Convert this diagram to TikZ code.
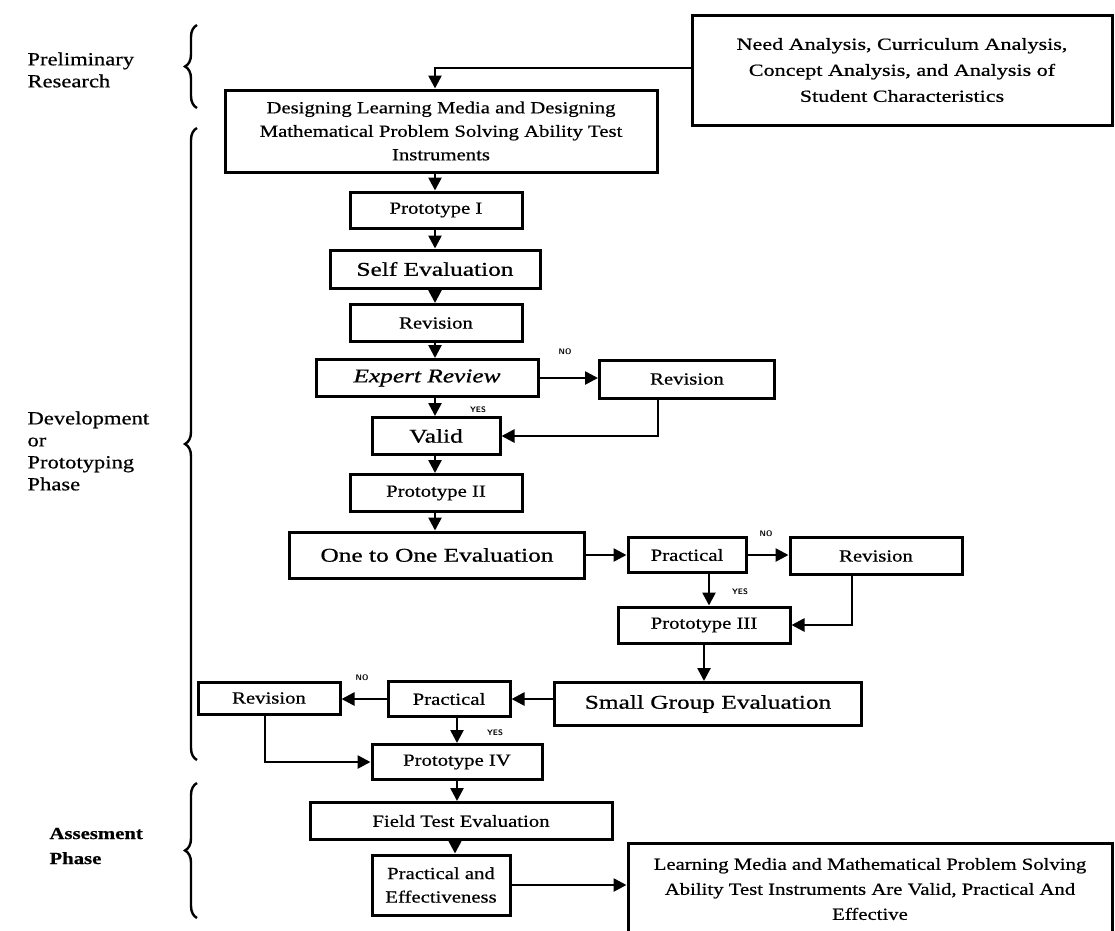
\documentclass[tikz,border=0pt]{standalone}
\usepackage{fontspec}
\setmainfont{Liberation Serif}
\newfontfamily\wide[FakeStretch=1.22,FakeBold=0.6]{Liberation Serif}
\newfontfamily\wider[FakeStretch=1.3,FakeBold=0.8]{Liberation Serif}
\usetikzlibrary{arrows.meta,decorations.pathreplacing}
\begin{document}
\begin{tikzpicture}[x=1pt,y=-1pt,
 box/.style={draw,line width=3pt,align=center,inner sep=2pt,font=\wide\fontsize{17}{23.5}\selectfont},
 bigbox/.style={box,font=\wider\fontsize{19.5}{24}\selectfont},
 arr/.style={line width=2.6pt,-{Triangle[length=13pt,width=13pt]}},
 yn/.style={font=\sffamily\bfseries\fontsize{8}{9}\selectfont},
 brc/.style={line width=2.4pt,decorate,decoration={brace,amplitude=12pt}},
 lbl/.style={align=left,anchor=west,font=\wide\fontsize{18.5}{22}\selectfont}]
\useasboundingbox (0,0) rectangle (1115,930);

% side labels and braces
\node[lbl] (lpre) at (24,70) {Preliminary\\Research};
\node[lbl] (ldev) at (24,451) {Development\\or\\Prototyping\\Phase};
\node[lbl,font=\wide\bfseries\fontsize{17}{25}\selectfont] (lass) at (46,846) {Assesment\\Phase};
\draw[brc] (197,108) -- (197,25);
\draw[brc] (197,760) -- (197,128);
\draw[brc] (197,918) -- (197,783);

% boxes
\node[box,minimum width=420,minimum height=110,font=\wider\fontsize{17}{26}\selectfont] (need) at (902,70) {Need Analysis, Curriculum Analysis,\\Concept Analysis, and Analysis of\\Student Characteristics};
\node[box,minimum width=432,minimum height=82] (design) at (441,131) {Designing Learning Media and Designing\\Mathematical Problem Solving Ability Test\\Instruments};
\node[box,minimum width=172,minimum height=36] (p1) at (436,210) {Prototype I};
\node[bigbox,minimum width=210,minimum height=38] (self) at (435,269) {Self Evaluation};
\node[box,minimum width=172,minimum height=37] (rev1) at (436,323) {Revision};
\node[bigbox,minimum width=222,minimum height=37] (expert) at (427,378) {\itshape Expert Review};
\node[box,minimum width=175,minimum height=38] (rev2) at (687,379) {Revision};
\node[bigbox,minimum width=128,minimum height=37] (valid) at (436,436) {Valid};
\node[box,minimum width=172,minimum height=37] (p2) at (436,493) {Prototype II};
\node[bigbox,minimum width=295,minimum height=46] (one) at (437,555) {One to One Evaluation};
\node[box,minimum width=118,minimum height=35] (prac1) at (687,555) {Practical};
\node[box,minimum width=172,minimum height=37] (rev3) at (876,556) {Revision};
\node[box,minimum width=172,minimum height=36] (p3) at (704,625) {Prototype III};
\node[bigbox,minimum width=307,minimum height=43] (small) at (708,704) {Small Group Evaluation};
\node[box,minimum width=122,minimum height=35] (prac2) at (449,699) {Practical};
\node[box,minimum width=142,minimum height=32] (rev4) at (269,698) {Revision};
\node[box,minimum width=170,minimum height=35] (p4) at (457,762) {Prototype IV};
\node[box,minimum width=302,minimum height=37] (field) at (461,821) {Field Test Evaluation};
\node[box,minimum width=138,minimum height=60] (pe) at (441,885) {Practical and\\Effectiveness};
\node[box,minimum width=484,minimum height=92,font=\wide\fontsize{17}{25}\selectfont] (final) at (870,889) {Learning Media and Mathematical Problem Solving\\Ability Test Instruments Are Valid, Practical And\\Effective};

% yes/no labels
\node[yn] (no1) at (565,352) {NO};
\node[yn] (yes1) at (478,410) {YES};
\node[yn] (no2) at (766,534) {NO};
\node[yn] (yes2) at (740,592) {YES};
\node[yn] (no3) at (362,678) {NO};
\node[yn] (yes3) at (495,733) {YES};

% connectors
\coordinate (c0) at (435,68);
\draw[arr] (need.west |- c0) -| (design.north -| c0);
\draw[arr] (design.south -| c0) -- (p1.north -| c0);
\draw[arr] (p1.south -| c0) -- (self.north -| c0);
\draw[arr] (self.south -| c0) -- (rev1.north -| c0);
\draw[arr] (rev1.south -| c0) -- (expert.north -| c0);
\draw[arr] (expert.south -| c0) -- (valid.north -| c0);
\draw[arr] (expert.east) -- (rev2.west |- expert.east);
\draw[arr] ([xshift=-29pt]rev2.south) |- (valid.east);
\draw[arr] (valid.south -| c0) -- (p2.north -| c0);
\draw[arr] (p2.south -| c0) -- (one.north -| c0);
\draw[arr] (one.east) -- (prac1.west);
\draw[arr] (prac1.east) -- (rev3.west |- prac1.east);
\draw[arr] ([xshift=22pt]prac1.south) -- ([xshift=22pt]prac1.south |- p3.north);
\draw[arr] ([xshift=-24pt]rev3.south) |- (p3.east);
\draw[arr] (p3.south) -- (p3.south |- small.north);
\draw[arr] (small.west |- prac2.east) -- (prac2.east);
\draw[arr] (prac2.west) -- (rev4.east |- prac2.west);
\draw[arr] (p4.north |- prac2.south) -- (p4.north);
\draw[arr] ([xshift=-4pt]rev4.south) |- (p4.west);
\draw[arr] (p4.south) -- (p4.south |- field.north);
\draw[arr] ([xshift=-6pt]field.south) -- ([xshift=-6pt]field.south |- pe.north);
\draw[arr] (pe.east) -- (final.west |- pe.east);
\end{tikzpicture}
\end{document}
